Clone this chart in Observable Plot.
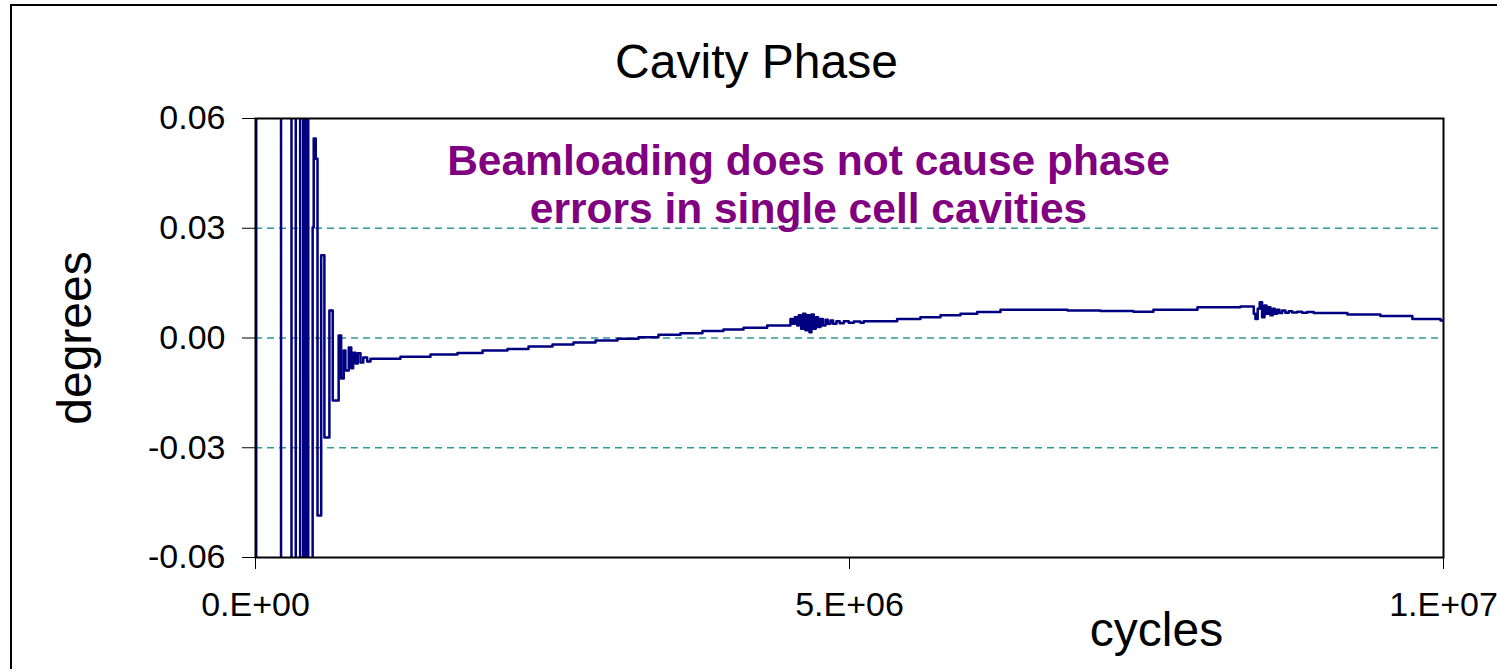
<!DOCTYPE html>
<html><head><meta charset="utf-8">
<script src="https://cdn.jsdelivr.net/npm/d3@7"></script>
<script src="https://cdn.jsdelivr.net/npm/@observablehq/plot@0.6"></script>
<style>
html,body{margin:0;padding:0;background:#fff;overflow:hidden;}
#wrap{position:relative;width:1497px;height:669px;}
#border{position:absolute;left:10px;top:4px;width:3000px;height:3000px;border-left:2px solid #000;border-top:2px solid #000;}
#chart{position:absolute;left:0;top:0;}
</style></head><body>
<div id="wrap"><div id="border"></div><div id="chart"></div></div>
<script>
// cycles and cavity phase (degrees); values far outside ±0.06 are clipped oscillations
const cycles = [0,3000,6000,215000,303000,339000,376000,402000,423000,444000,481000,490000,507000,522000,553000,580000,622000,650000,700000,721000,743000,757000,785000,806000,822000,842000,861000,884000,907000,940000,968000,1220000,1473000,1700000,1911000,2121000,2298000,2500000,2677000,2862000,3047000,3224000,3392000,3577000,3762000,3939000,4108000,4307000,4503000,4523000,4540000,4560000,4573000,4593000,4610000,4629000,4644000,4663000,4680000,4699000,4716000,4736000,4756000,4775000,4798000,4817000,4840000,4862000,4890000,4918000,4952000,4994000,5036000,5092000,5120000,5401000,5597000,5766000,5934000,6075000,6271000,6835000,7112000,7390000,7558000,7929000,8291000,8403000,8417000,8436000,8453000,8473000,8493000,8510000,8529000,8543000,8563000,8580000,8600000,8619000,8642000,8669000,8697000,8726000,8768000,8810000,8852000,8908000,9191000,9469000,9738000,9975000,10000000];
const phase = [-0.031,-0.5,0.5,-0.5,0.5,-0.5,0.5,-0.5,0.5,-0.5,0.0303,0.0545,0.049,-0.0485,0.0226,-0.0272,0.0075,-0.0171,0.0007,-0.0111,-0.0034,-0.0089,-0.0026,-0.0083,-0.004,-0.007,-0.0042,-0.0067,-0.0053,-0.0064,-0.0057,-0.0051,-0.0045,-0.0041,-0.0034,-0.003,-0.0023,-0.0018,-0.0012,-0.0007,-0.0002,0.0002,0.0009,0.0013,0.0019,0.0023,0.0028,0.0034,0.0052,0.0039,0.0057,0.0034,0.0062,0.0025,0.0066,0.0021,0.0062,0.0016,0.0064,0.0025,0.0057,0.003,0.0052,0.0034,0.005,0.0039,0.0048,0.0039,0.0046,0.004,0.0046,0.0042,0.0045,0.0042,0.0046,0.0052,0.0057,0.0062,0.0066,0.0071,0.0077,0.0075,0.0074,0.0072,0.0077,0.0084,0.0086,0.0066,0.0052,0.008,0.0098,0.0057,0.0089,0.0066,0.0084,0.0062,0.008,0.0066,0.0077,0.0068,0.0075,0.0069,0.0073,0.007,0.0072,0.0069,0.0071,0.0068,0.0064,0.006,0.0052,0.0048,0.0048];
const yTicks = [-0.06,-0.03,0,0.03,0.06];
const yGrid = [-0.03,0,0.03];
const xTicks = [0,5000000,10000000];
const xTickLabels = ["0.E+00","5.E+06","1.E+07"];
const titleText = "Cavity Phase";
const xLabel = "cycles";
const yLabel = "degrees";
const noteText = "Beamloading does not cause phase\nerrors in single cell cavities";

const data = cycles.map((c,i)=>({cycles:c, phase:phase[i]}));
const font = "'Liberation Sans', Arial, sans-serif";

const plot = Plot.plot({
  width:1497, height:669,
  marginLeft:255, marginRight:54, marginTop:118, marginBottom:112,
  style:{fontFamily:font, background:"transparent", color:"#000"},
  x:{domain:[0,10000000]},
  y:{domain:[-0.06,0.06]},
  marks:[
    Plot.ruleY(yGrid, {stroke:"#2a9a9a", strokeDasharray:"7,5", strokeWidth:1.3}),
    Plot.line(data, {x:"cycles", y:"phase", curve:"step-after", stroke:"#000080", strokeWidth:2.5, clip:true}),
    Plot.frame({stroke:"#000", strokeWidth:2}),
    Plot.axisX({ticks:xTicks, tickFormat:d=>xTickLabels[xTicks.indexOf(d)], tickSize:12, tickPadding:22, fontSize:34, label:null}),
    Plot.axisY({ticks:yTicks, tickFormat:d=>d.toFixed(2), tickSize:13, tickPadding:17, fontSize:34, label:null}),
    Plot.text([titleText], {frameAnchor:"top", dx:-93, dy:-56, fontSize:48, lineAnchor:"middle", textAnchor:"middle"}),
    Plot.text([noteText], {frameAnchor:"top", dx:-41, dy:22, fontSize:42.5, fontWeight:"bold", fill:"#800080", lineAnchor:"top", lineHeight:1.13, textAnchor:"middle"}),
    Plot.text([xLabel], {frameAnchor:"bottom-right", dx:-287, dy:73, fontSize:48, lineAnchor:"middle", textAnchor:"middle"}),
    Plot.text([yLabel], {frameAnchor:"left", dx:-180, rotate:-90, fontSize:48, lineAnchor:"middle", textAnchor:"middle"})
  ]
});
document.getElementById("chart").appendChild(plot);
</script>
</body></html>
